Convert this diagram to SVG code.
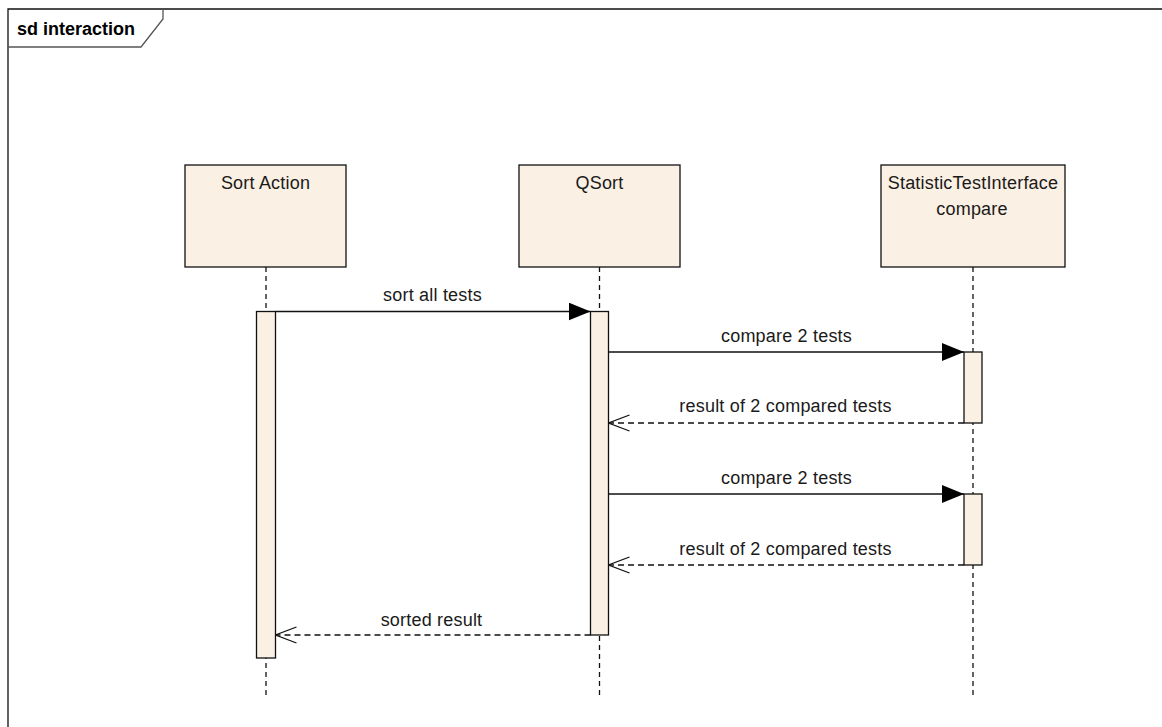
<svg xmlns="http://www.w3.org/2000/svg" width="1162" height="727" viewBox="0 0 1162 727">
<style>
  text { font-family: "Liberation Sans", Arial, sans-serif; fill: #1a1a1a; }
  .lbl { font-size: 18px; letter-spacing: 0.2px; text-anchor: middle; }
  .title { font-size: 18px; font-weight: bold; fill: #000; }
  .head { fill: #FAF0E3; stroke: #111; stroke-width: 1.3; }
  .act { fill: #FAF0E3; stroke: #111; stroke-width: 1.3; }
  .life { stroke: #111; stroke-width: 1.3; stroke-dasharray: 5 4; fill: none; }
  .msg { stroke: #111; stroke-width: 1.3; fill: none; }
  .ret { stroke: #111; stroke-width: 1.3; stroke-dasharray: 6 4; fill: none; }
  .frame { stroke: #111; stroke-width: 1.3; fill: none; }
  .tab { stroke: #555; stroke-width: 1.3; fill: none; }
</style>
<defs>
  <marker id="filled" markerWidth="22" markerHeight="18" refX="22" refY="9" orient="auto" markerUnits="userSpaceOnUse">
    <path d="M0,0 L22,9 L0,18 Z" fill="#000"/>
  </marker>
  <marker id="open" markerWidth="22" markerHeight="18" refX="21" refY="9" orient="auto" markerUnits="userSpaceOnUse">
    <path d="M0,1 L21,9 L0,17" fill="none" stroke="#111" stroke-width="1.3"/>
  </marker>
</defs>
<rect x="0" y="0" width="1162" height="727" fill="#fff"/>

<g id="frame">
  <path class="frame" d="M8,727 L8,9 L1162,9"/>
  <path class="tab" d="M163,9 L163,19 L141,47 L8,47"/>
  <text class="title" x="17" y="35">sd interaction</text>
</g>

<g id="lifelines">
  <line class="life" x1="266" y1="267" x2="266" y2="697"/>
  <line class="life" x1="599.5" y1="267" x2="599.5" y2="697"/>
  <line class="life" x1="973" y1="267" x2="973" y2="697"/>
</g>

<g id="sort-action">
  <rect class="head" x="185" y="165" width="161" height="102"/>
  <text class="lbl" x="265.5" y="189">Sort Action</text>
  <rect class="act" x="256.5" y="311.5" width="19" height="346.5"/>
</g>

<g id="qsort">
  <rect class="head" x="519" y="165" width="161" height="102"/>
  <text class="lbl" x="599.5" y="189">QSort</text>
  <rect class="act" x="590.5" y="311.5" width="18" height="323.5"/>
</g>

<g id="statistic-test-interface">
  <rect class="head" x="881" y="165" width="184" height="102"/>
  <text class="lbl" x="973" y="189">StatisticTestInterface</text>
  <text class="lbl" x="972" y="215">compare</text>
  <rect class="act" x="964" y="352" width="18" height="71"/>
  <rect class="act" x="964" y="494" width="18" height="71"/>
</g>

<g id="connectors">
  <line class="msg" x1="275.5" y1="311.5" x2="590.5" y2="311.5" marker-end="url(#filled)"/>
  <text class="lbl" x="432.5" y="301">sort all tests</text>

  <line class="msg" x1="608.5" y1="352" x2="964" y2="352" marker-end="url(#filled)"/>
  <text class="lbl" x="786.5" y="342">compare 2 tests</text>

  <line class="ret" x1="964" y1="423" x2="608.5" y2="423" marker-end="url(#open)"/>
  <text class="lbl" x="785.5" y="412">result of 2 compared tests</text>

  <line class="msg" x1="608.5" y1="494" x2="964" y2="494" marker-end="url(#filled)"/>
  <text class="lbl" x="786.5" y="484">compare 2 tests</text>

  <line class="ret" x1="964" y1="565" x2="608.5" y2="565" marker-end="url(#open)"/>
  <text class="lbl" x="785.5" y="555">result of 2 compared tests</text>

  <line class="ret" x1="590.5" y1="635" x2="275.5" y2="635" marker-end="url(#open)"/>
  <text class="lbl" x="431.5" y="626">sorted result</text>
</g>
</svg>
